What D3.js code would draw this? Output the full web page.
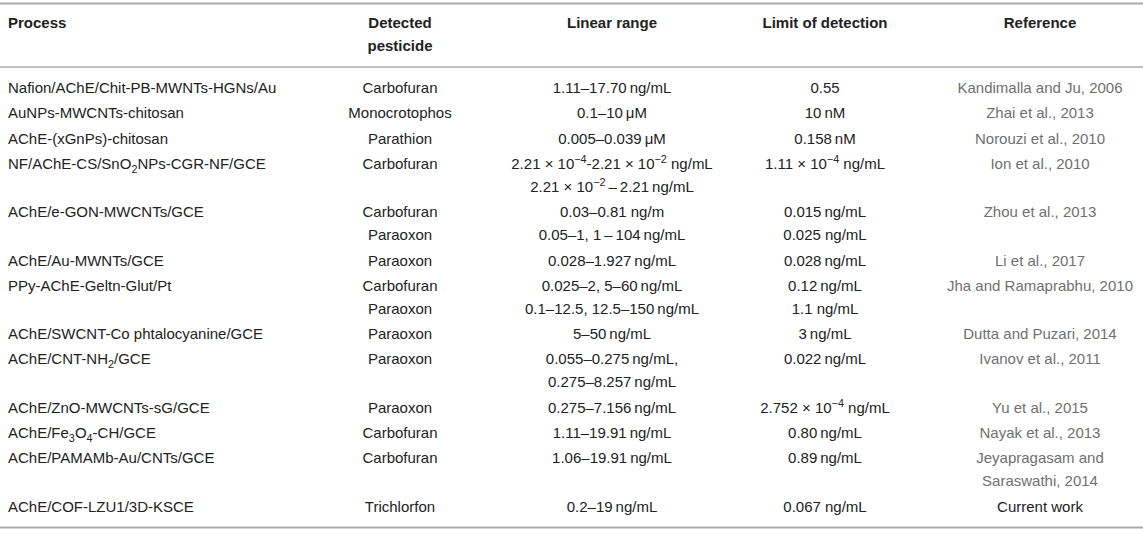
<!DOCTYPE html>
<html><head><meta charset="utf-8">
<script src="https://cdn.jsdelivr.net/npm/d3@7/dist/d3.min.js"></script>
<style>
html,body{margin:0;padding:0;background:#fff;}
svg{display:block;font-family:"Liberation Sans",Arial,Helvetica,sans-serif;}
</style></head>
<body>
<div id="chart"></div>
<script>
// ---- data ----
const headers = [["Process"], ["Detected", "pesticide"], ["Linear range"], ["Limit of detection"], ["Reference"]];
const processes = [
  "Nafion/AChE/Chit-PB-MWNTs-HGNs/Au",
  "AuNPs-MWCNTs-chitosan",
  "AChE-(xGnPs)-chitosan",
  "NF/AChE-CS/SnO_{2}NPs-CGR-NF/GCE",
  "AChE/e-GON-MWCNTs/GCE",
  "AChE/Au-MWNTs/GCE",
  "PPy-AChE-Geltn-Glut/Pt",
  "AChE/SWCNT-Co phtalocyanine/GCE",
  "AChE/CNT-NH_{2}/GCE",
  "AChE/ZnO-MWCNTs-sG/GCE",
  "AChE/Fe_{3}O_{4}-CH/GCE",
  "AChE/PAMAMb-Au/CNTs/GCE",
  "AChE/COF-LZU1/3D-KSCE"
];
const pesticides = [
  ["Carbofuran"], ["Monocrotophos"], ["Parathion"], ["Carbofuran"],
  ["Carbofuran", "Paraoxon"], ["Paraoxon"], ["Carbofuran", "Paraoxon"],
  ["Paraoxon"], ["Paraoxon"], ["Paraoxon"], ["Carbofuran"], ["Carbofuran"], ["Trichlorfon"]
];
const linearRanges = [
  ["1.11–17.70\u2009ng/mL"],
  ["0.1–10\u2009μM"],
  ["0.005–0.039\u2009μM"],
  ["2.21 × 10^{−4}-2.21 × 10^{−2} ng/mL", "2.21 × 10^{−2}\u2009–\u20092.21\u2009ng/mL"],
  ["0.03–0.81 ng/m", "0.05–1, 1\u2009–\u2009104\u2009ng/mL"],
  ["0.028–1.927\u2009ng/mL"],
  ["0.025–2, 5–60\u2009ng/mL", "0.1–12.5, 12.5–150\u2009ng/mL"],
  ["5–50\u2009ng/mL"],
  ["0.055–0.275\u2009ng/mL,", "0.275–8.257\u2009ng/mL"],
  ["0.275–7.156\u2009ng/mL"],
  ["1.11–19.91\u2009ng/mL"],
  ["1.06–19.91\u2009ng/mL"],
  ["0.2–19\u2009ng/mL"]
];
const limits = [
  ["0.55"], ["10\u2009nM"], ["0.158\u2009nM"], ["1.11 × 10^{−4} ng/mL"],
  ["0.015\u2009ng/mL", "0.025 ng/mL"], ["0.028\u2009ng/mL"], ["0.12\u2009ng/mL", "1.1 ng/mL"],
  ["3\u2009ng/mL"], ["0.022\u2009ng/mL"], ["2.752 × 10^{−4} ng/mL"], ["0.80\u2009ng/mL"],
  ["0.89\u2009ng/mL"], ["0.067 ng/mL"]
];
const references = [
  ["Kandimalla and Ju, 2006"], ["Zhai et al., 2013"], ["Norouzi et al., 2010"], ["Ion et al., 2010"],
  ["Zhou et al., 2013"], ["Li et al., 2017"], ["Jha and Ramaprabhu, 2010"], ["Dutta and Puzari, 2014"],
  ["Ivanov et al., 2011"], ["Yu et al., 2015"], ["Nayak et al., 2013"],
  ["Jeyapragasam and", "Saraswathi, 2014"], ["Current work"]
];

// ---- layout ----
const W = 1143, H = 535;
const colKeys = ["process", "pesticide", "range", "lod", "ref"];
const colX = d3.scaleOrdinal().domain(colKeys).range([8, 400, 612, 825, 1040]);
const colAnchor = d3.scaleOrdinal().domain(colKeys).range(["start", "middle", "middle", "middle", "middle"]);

const rows = processes.map((p, i) => ({
  process: [p], pesticide: pesticides[i], range: linearRanges[i], lod: limits[i], ref: references[i],
  isCurrent: references[i][0] === "Current work"
}));

// vertical positions: row gap vs. line gap inside a row
const rowGap = 25.3, lineGap = 23;
let cursor = 93;
rows.forEach(r => {
  r.n = d3.max(colKeys, k => r[k].length);
  r.y0 = cursor;
  cursor += (r.n - 1) * lineGap + rowGap;
});
const lastY = rows[rows.length - 1].y0;

const svg = d3.select("#chart").append("svg").attr("width", W).attr("height", H);

function rich(textSel, str, fs) {
  const re = /(_\{[^}]*\}|\^\{[^}]*\})/g;
  const parts = str.split(re).filter(s => s.length);
  let shift = 0;
  parts.forEach(part => {
    let t, target, small = false;
    if (part.startsWith("_{")) { t = part.slice(2, -1); target = fs * 0.25; small = true; }
    else if (part.startsWith("^{")) { t = part.slice(2, -1); target = -fs * 0.38; small = true; }
    else { t = part; target = 0; }
    const ts = textSel.append("tspan").text(t).attr("dy", target - shift);
    if (small) ts.style("font-size", (fs * 0.72) + "px");
    shift = target;
  });
}

// rules
const lineColor = "#ababab";
const topY = 3.5, headRuleY = 67, bottomY = lastY + 16;
svg.append("line").attr("x1", 0).attr("x2", W).attr("y1", topY).attr("y2", topY).attr("stroke", lineColor).attr("stroke-width", 2);
svg.append("line").attr("x1", 0).attr("x2", W).attr("y1", headRuleY).attr("y2", headRuleY).attr("stroke", lineColor).attr("stroke-width", 1.5);
svg.append("line").attr("x1", 0).attr("x2", W).attr("y1", bottomY).attr("y2", bottomY).attr("stroke", lineColor).attr("stroke-width", 2);

const FS = 15;
// headers
const hY = d3.scaleLinear().domain([0, 1]).range([28, 51]);
headers.forEach((h, ci) => {
  h.forEach((line, li) => {
    svg.append("text").attr("x", colX(colKeys[ci])).attr("y", hY(li))
      .attr("text-anchor", colAnchor(colKeys[ci]))
      .style("font-size", FS + "px").style("font-weight", "bold").style("fill", "#222")
      .text(line);
  });
});

// body
const body = svg.append("g");
rows.forEach(r => {
  colKeys.forEach(k => {
    r[k].forEach((line, li) => {
      const t = body.append("text").attr("x", colX(k)).attr("y", r.y0 + li * lineGap)
        .attr("text-anchor", colAnchor(k))
        .style("font-size", FS + "px")
        .style("fill", k === "ref" && !r.isCurrent ? "#707070" : "#222");
      rich(t, line, FS);
    });
  });
});
</script>
</body></html>
